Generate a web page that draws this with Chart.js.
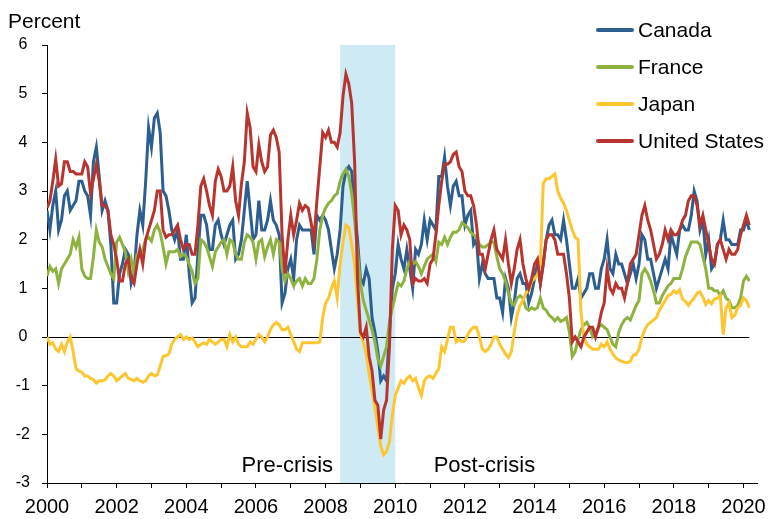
<!DOCTYPE html>
<html>
<head>
<meta charset="utf-8">
<title>Inflation</title>
<script src="https://cdn.jsdelivr.net/npm/chart.js@4.4.1/dist/chart.umd.min.js"></script>
<style>
    body { margin: 0; background: #fff; }
    #wrap { position: relative; width: 773px; height: 519px; font-family: "Liberation Sans", Arial, sans-serif; color: #000; }
    #unit { position: absolute; left: 8px; top: 10px; font-size: 21px; line-height: 21px; }
    #legend { position: absolute; left: 596px; top: 12px; }
    .item { height: 36.8px; display: flex; align-items: center; font-size: 21px; }
    .swatch { display: inline-block; width: 38px; height: 4px; border-radius: 2px; margin-right: 4px; }
</style>
</head>
<body>
<div id="wrap">
    <canvas id="inflationChart" width="773" height="519"></canvas>
    <div id="unit">Percent</div>
    <div id="legend"></div>
</div>
<script>
// monthly values, first point sits on 2000
var canada = [
    2.6, 2.2, 2.7, 3.0, 2.2, 2.4, 2.9, 3.0, 2.6, 2.7, 2.8, 3.2,
    3.2, 3.0, 2.9, 2.5, 3.6, 3.9, 3.3, 2.6, 2.8, 2.6, 1.9, 0.7,
    0.7, 1.3, 1.5, 1.8, 1.7, 1.1, 1.3, 2.1, 2.6, 2.3, 3.2, 4.3,
    3.9, 4.5, 4.6, 4.2, 3.0, 2.9, 2.6, 2.2, 2.0, 2.2, 1.6, 1.6,
    2.1, 1.3, 0.7, 0.8, 1.7, 2.5, 2.5, 2.3, 1.8, 1.8, 2.3, 2.4,
    2.1, 1.9, 2.1, 2.3, 2.4, 1.6, 1.7, 2.0, 2.6, 3.2, 2.6, 2.0,
    2.1, 2.8, 2.2, 2.2, 2.4, 2.8, 2.4, 2.3, 2.1, 0.7, 0.9, 1.4,
    1.6, 1.2, 2.0, 2.3, 2.2, 2.2, 2.2, 2.2, 1.7, 2.5, 2.4, 2.5,
    2.4, 2.2, 1.8, 1.4, 1.7, 2.2, 3.1, 3.4, 3.5, 3.4, 2.6, 2.0,
    1.2, 1.1, 1.4, 1.2, 0.4, 0.1, -0.3, -0.9, -0.8, -0.9, 0.1, 1.0,
    1.3, 1.9, 1.6, 1.4, 1.8, 1.4, 1.0, 1.8, 1.7, 1.9, 2.4, 2.0,
    2.4, 2.3, 2.2, 3.3, 3.3, 3.7, 3.1, 2.7, 3.1, 3.2, 2.9, 2.9,
    2.3, 2.5, 2.6, 1.9, 2.0, 1.2, 1.5, 1.3, 1.2, 1.2, 1.2, 0.8,
    0.8, 0.5, 1.2, 1.0, 0.4, 0.7, 1.2, 1.3, 1.1, 1.1, 0.7, 0.9,
    1.2, 1.5, 1.1, 1.5, 2.0, 2.3, 2.4, 2.1, 2.1, 2.0, 2.4, 2.0,
    1.5, 1.0, 1.0, 1.2, 0.8, 0.9, 1.0, 1.3, 1.3, 1.0, 1.0, 1.4,
    1.6, 2.0, 1.4, 1.3, 1.7, 1.5, 1.5, 1.3, 1.1, 1.3, 1.5, 1.2,
    1.5, 2.1, 2.0, 1.6, 1.6, 1.3, 1.0, 1.2, 1.4, 1.6, 1.4, 2.1,
    1.9, 1.7, 2.2, 2.3, 2.2, 2.2, 2.5, 3.0, 2.8, 2.2, 2.4, 1.7,
    2.0, 1.4, 1.5, 1.9, 2.0, 2.4, 2.0, 2.0, 1.9, 1.9, 1.9, 2.2,
    2.2, 2.4, 2.2
];
var france = [
    1.25, 1.45, 1.35, 1.4, 1.1, 1.4, 1.5, 1.6, 1.7, 2.0, 1.85, 2.05,
    1.4, 1.25, 1.2, 1.2, 1.65, 2.2, 1.95, 1.85, 1.6, 1.45, 1.3, 1.2,
    1.95, 2.05, 1.9, 1.75, 1.35, 1.6, 1.3, 1.7, 1.7, 1.8, 2.0, 2.05,
    1.97, 2.2, 2.3, 2.15, 1.85, 1.5, 1.75, 1.75, 1.75, 1.8, 1.65, 1.7,
    1.65, 1.5, 1.35, 1.1, 1.2, 2.0, 1.95, 1.85, 1.65, 1.45, 1.75, 1.85,
    1.95, 2.0, 1.7, 2.0, 1.95, 1.7, 1.6, 1.6, 1.95, 2.1, 2.05, 1.95,
    1.6, 1.95, 2.0, 1.65, 1.85, 2.0, 1.7, 2.0, 1.95, 1.4, 1.15, 1.3,
    1.2, 1.05, 1.15, 1.2, 1.05, 1.2, 1.1, 1.1, 1.2, 1.6, 2.2, 2.5,
    2.65, 2.75, 2.8, 2.9, 2.95, 3.2, 3.35, 3.45, 3.3, 2.95, 2.4, 1.75,
    1.1, 0.75, 0.55, 0.35, 0.15, -0.1, -0.45, -0.6, -0.4, -0.2, 0.3, 0.6,
    0.85, 1.1, 1.05, 1.15, 1.4, 1.55, 1.5, 1.55, 1.45, 1.3, 1.45, 1.6,
    1.65, 1.7, 1.55, 1.95, 1.9, 2.05, 1.9, 2.05, 2.15, 2.15, 2.2, 2.35,
    2.3, 2.25, 2.15, 2.1, 2.05, 1.9, 1.85, 1.85, 1.9, 1.95, 1.95, 1.65,
    1.4, 1.3, 1.15, 0.9, 0.7, 0.65, 0.8, 0.85, 0.8, 0.6, 0.55, 0.6,
    0.57, 0.6, 0.8, 0.6, 0.55, 0.45, 0.4, 0.33, 0.4, 0.32, 0.35, 0.4,
    0.1, -0.4, -0.3, -0.05, 0.15, 0.25, 0.3, 0.2, 0.0, 0.05, 0.2, 0.25,
    0.2, 0.15, 0.0, -0.15, -0.2, 0.1, 0.25, 0.35, 0.4, 0.35, 0.5, 0.65,
    0.75, 1.3, 1.4, 1.3, 1.15, 0.95, 0.7, 0.7, 0.85, 0.95, 1.05, 1.1,
    1.2, 1.2, 1.2, 1.4, 1.65, 1.8, 1.95, 1.95, 1.95, 1.9, 1.65, 1.4,
    1.0, 1.0, 0.95, 0.95, 0.85, 0.95, 0.8, 0.75, 0.6, 0.6, 0.65, 0.8,
    1.15, 1.25, 1.15
];
var japan = [
    0.0, -0.15, -0.12, -0.25, -0.3, -0.15, -0.3, -0.1, 0.0, -0.3, -0.65, -0.7,
    -0.72, -0.8, -0.8, -0.85, -0.88, -0.95, -0.9, -0.9, -0.88, -0.8, -0.75, -0.8,
    -0.9, -0.85, -0.8, -0.75, -0.85, -0.87, -0.9, -0.85, -0.9, -0.93, -0.9, -0.8,
    -0.75, -0.8, -0.78, -0.6, -0.4, -0.38, -0.35, -0.15, -0.05, 0.0, 0.05, -0.05,
    0.0, -0.05, -0.02, -0.1, -0.2, -0.15, -0.12, -0.15, -0.05, -0.1, -0.15, -0.1,
    -0.05, -0.05, -0.2, 0.05, -0.1, 0.0, -0.15, -0.2, -0.2, -0.2, -0.1, -0.15,
    -0.05, 0.05, 0.0, -0.1, 0.0, 0.15, 0.25, 0.3, 0.25, 0.15, 0.15, 0.2,
    0.05, -0.1, -0.25, -0.3, -0.12, -0.12, -0.12, -0.12, -0.12, -0.12, -0.1, 0.4,
    0.7, 0.8, 1.0, 1.15, 0.8, 1.5, 1.95, 2.3, 2.25, 1.9, 1.5, 0.75,
    0.05, -0.1, -0.35, -0.75, -1.1, -1.45, -1.85, -2.25, -2.42, -2.35, -2.15, -1.6,
    -1.2, -1.05, -0.9, -0.95, -0.85, -0.8, -0.9, -0.85, -1.05, -1.2, -0.9, -0.82,
    -0.8, -0.85, -0.75, -0.65, -0.2, -0.3, -0.05, 0.2, 0.2, -0.1, -0.05, -0.1,
    -0.08, 0.05, 0.15, 0.2, 0.2, 0.0, -0.25, -0.3, -0.25, -0.15, 0.0, 0.0,
    -0.15, -0.25, -0.35, -0.42, -0.3, 0.1, 0.45, 0.65, 0.75, 0.9, 0.95, 1.15,
    1.2, 1.28, 1.5, 3.15, 3.25, 3.25, 3.3, 3.35, 3.0, 2.85, 2.75, 2.6,
    2.4, 2.2, 2.05, 2.0, 0.5, 0.0, -0.15, -0.2, -0.25, -0.25, -0.25, -0.15,
    -0.2, -0.1, -0.25, -0.35, -0.43, -0.47, -0.5, -0.52, -0.53, -0.5, -0.37, -0.36,
    -0.25, 0.0, 0.15, 0.25, 0.3, 0.35, 0.4, 0.55, 0.65, 0.75, 0.85, 0.88,
    0.95, 0.9, 0.97, 0.78, 0.73, 0.65, 0.73, 0.8, 0.9, 0.93, 0.82, 0.67,
    0.75, 0.68, 0.78, 0.8, 0.85, 0.05, 0.6, 0.7, 0.4, 0.45, 0.6, 0.65,
    0.8, 0.75, 0.6
];
var unitedStates = [
    2.65, 2.8, 3.2, 3.65, 3.1, 3.15, 3.6, 3.6, 3.4, 3.4, 3.35, 3.35,
    3.35, 3.6, 3.5, 2.95, 3.25, 3.55, 3.2, 2.7, 2.7, 2.6, 2.1, 1.9,
    1.6, 1.15, 1.15, 1.5, 1.6, 1.2, 1.1, 1.5, 1.8, 1.5, 2.0, 2.2,
    2.4, 2.6, 3.0, 3.0, 2.2, 2.05, 2.1, 2.1, 2.2, 2.3, 2.0, 1.8,
    1.9, 1.9, 1.7, 1.7, 2.3, 3.1, 3.25, 3.0, 2.7, 2.5, 3.2, 3.45,
    3.3, 3.0, 3.0, 3.1, 3.5, 2.8, 2.5, 3.15, 3.6, 4.6, 4.3, 3.5,
    3.4, 3.95, 3.6, 3.4, 3.5, 4.15, 4.25, 4.1, 3.8, 2.1, 1.3, 2.0,
    2.5, 2.1, 2.4, 2.75, 2.6, 2.7, 2.65, 2.35, 2.0, 2.8, 3.5, 4.2,
    4.1, 4.25, 4.0, 4.0, 3.9, 4.2, 4.95, 5.4, 5.2, 4.8, 3.6, 1.2,
    0.1, 0.0, 0.2, -0.4, -0.7, -1.3, -1.4, -2.1, -1.5, -1.3, -0.2, 1.8,
    2.7, 2.6, 2.1, 2.3, 2.2, 2.0, 1.1, 1.2, 1.15, 1.15, 1.2, 1.1,
    1.5, 1.6, 2.1, 2.7, 3.2, 3.55, 3.55, 3.6, 3.75, 3.8, 3.5, 3.4,
    3.0, 2.9, 2.9, 2.7, 2.3, 1.7, 1.7, 1.4, 1.7, 2.0, 2.2, 1.8,
    1.7, 1.6, 2.0, 1.5, 1.1, 1.4, 1.8, 2.0, 1.5, 1.2, 1.0, 1.2,
    1.5, 1.6, 1.1, 1.5, 2.0, 2.1, 2.1, 2.0, 1.7, 1.7, 1.7, 1.3,
    0.8, -0.1, 0.0, -0.1, -0.2, 0.0, 0.1, 0.2, 0.2, 0.0, 0.2, 0.5,
    0.7, 1.4, 1.0, 0.9, 1.1, 1.0, 1.0, 0.8, 1.1, 1.5, 1.6, 1.7,
    2.1, 2.5, 2.7, 2.4, 2.2, 1.9, 1.6, 1.7, 1.9, 2.2, 2.0, 2.2,
    2.1, 2.1, 2.2, 2.4, 2.5, 2.8, 2.9, 2.9, 2.7, 2.3, 2.5, 2.2,
    1.9, 1.6, 1.5, 1.9, 2.0, 1.8, 1.6, 1.8, 1.7, 1.7, 1.8, 2.1,
    2.3, 2.5, 2.3
];
var yearTicks = [2000, 2001, 2002, 2003, 2004, 2005, 2006, 2007, 2008, 2009, 2010,
    2011, 2012, 2013, 2014, 2015, 2016, 2017, 2018, 2019, 2020];
var crisisStart = 2008.42;
var crisisEnd = 2010.0;

var dates = canada.map(function (_, i) { return 2000 + i / 12; }); // one point per month

var notes = [
    { text: 'Pre-crisis', x: 2006.9, y: -2.65 },
    { text: 'Post-crisis', x: 2012.56, y: -2.65 }
];

var FONT = '"Liberation Sans", Arial, sans-serif';

var crisisPlugin = {
    id: 'crisis',
    beforeDraw: function (chart) {
        var ctx = chart.ctx, area = chart.chartArea;
        var xs = chart.scales.x, ys = chart.scales.y;
        var x0 = xs.getPixelForValue(crisisStart);
        var x1 = xs.getPixelForValue(crisisEnd);
        ctx.save();
        ctx.fillStyle = '#cdeaf5';
        ctx.fillRect(x0, area.top, x1 - x0, area.bottom - area.top);

        // zero line stops at the last month
        var yz = Math.round(ys.getPixelForValue(0)) + 0.5;
        ctx.strokeStyle = '#000';
        ctx.lineWidth = 1;
        ctx.beginPath();
        ctx.moveTo(area.left, yz);
        ctx.lineTo(xs.getPixelForValue(dates[dates.length - 1]), yz);
        ctx.stroke();

        ctx.fillStyle = '#000';
        ctx.font = '22px ' + FONT;
        ctx.textAlign = 'center';
        ctx.textBaseline = 'middle';
        notes.forEach(function (n) {
            ctx.fillText(n.text, xs.getPixelForValue(n.x), ys.getPixelForValue(n.y));
        });
        ctx.restore();
    }
};

function series(label, values, color, order) {
    return {
        label: label,
        data: values,
        borderColor: color,
        backgroundColor: color,
        borderWidth: 3,
        pointRadius: 0,
        tension: 0,
        fill: false,
        order: order
    };
}

window.initializeChart = function () {
    var ctx = document.getElementById('inflationChart').getContext('2d');
    window.inflationChart = new Chart(ctx, {
        type: 'line',
        data: {
            labels: dates,
            datasets: [
                series('Canada', canada, '#2c5f8f', 4),
                series('France', france, '#8db23f', 3),
                series('Japan', japan, '#fdc52f', 2),
                series('United States', unitedStates, '#b8352f', 1)
            ]
        },
        options: {
            responsive: false,
            animation: false,
            layout: { padding: { top: 45, right: 13, left: 0, bottom: 0 } },
            plugins: {
                legend: { display: false },
                tooltip: { enabled: false }
            },
            scales: {
                x: {
                    type: 'linear',
                    min: 2000,
                    max: 2020.4,
                    afterBuildTicks: function (scale) {
                        scale.ticks = yearTicks.map(function (v) { return { value: v }; });
                    },
                    afterFit: function (scale) { scale.height = 36; },
                    grid: { drawOnChartArea: false, drawTicks: true, tickLength: 5, color: '#000' },
                    border: { display: true, color: '#000', width: 1 },
                    ticks: {
                        autoSkip: false,
                        maxRotation: 0,
                        padding: 7,
                        color: '#000',
                        font: { family: FONT, size: 20 },
                        callback: function (v) { return v % 2 === 0 ? String(v) : ''; }
                    }
                },
                y: {
                    min: -3,
                    max: 6,
                    afterFit: function (scale) { scale.width = 47; },
                    grid: { drawOnChartArea: false, drawTicks: true, tickLength: 5, color: '#000' },
                    border: { display: true, color: '#000', width: 1 },
                    ticks: {
                        stepSize: 1,
                        padding: 12,
                        crossAlign: 'center',
                        color: '#000',
                        font: { family: FONT, size: 16 }
                    }
                }
            }
        },
        plugins: [crisisPlugin]
    });

    var box = document.getElementById('legend');
    window.inflationChart.data.datasets.forEach(function (ds) {
        var row = document.createElement('div');
        row.className = 'item';
        var sw = document.createElement('span');
        sw.className = 'swatch';
        sw.style.background = ds.borderColor;
        var tx = document.createElement('span');
        tx.textContent = ds.label;
        row.appendChild(sw);
        row.appendChild(tx);
        box.appendChild(row);
    });
};

window.initializeChart();
</script>
</body>
</html>
